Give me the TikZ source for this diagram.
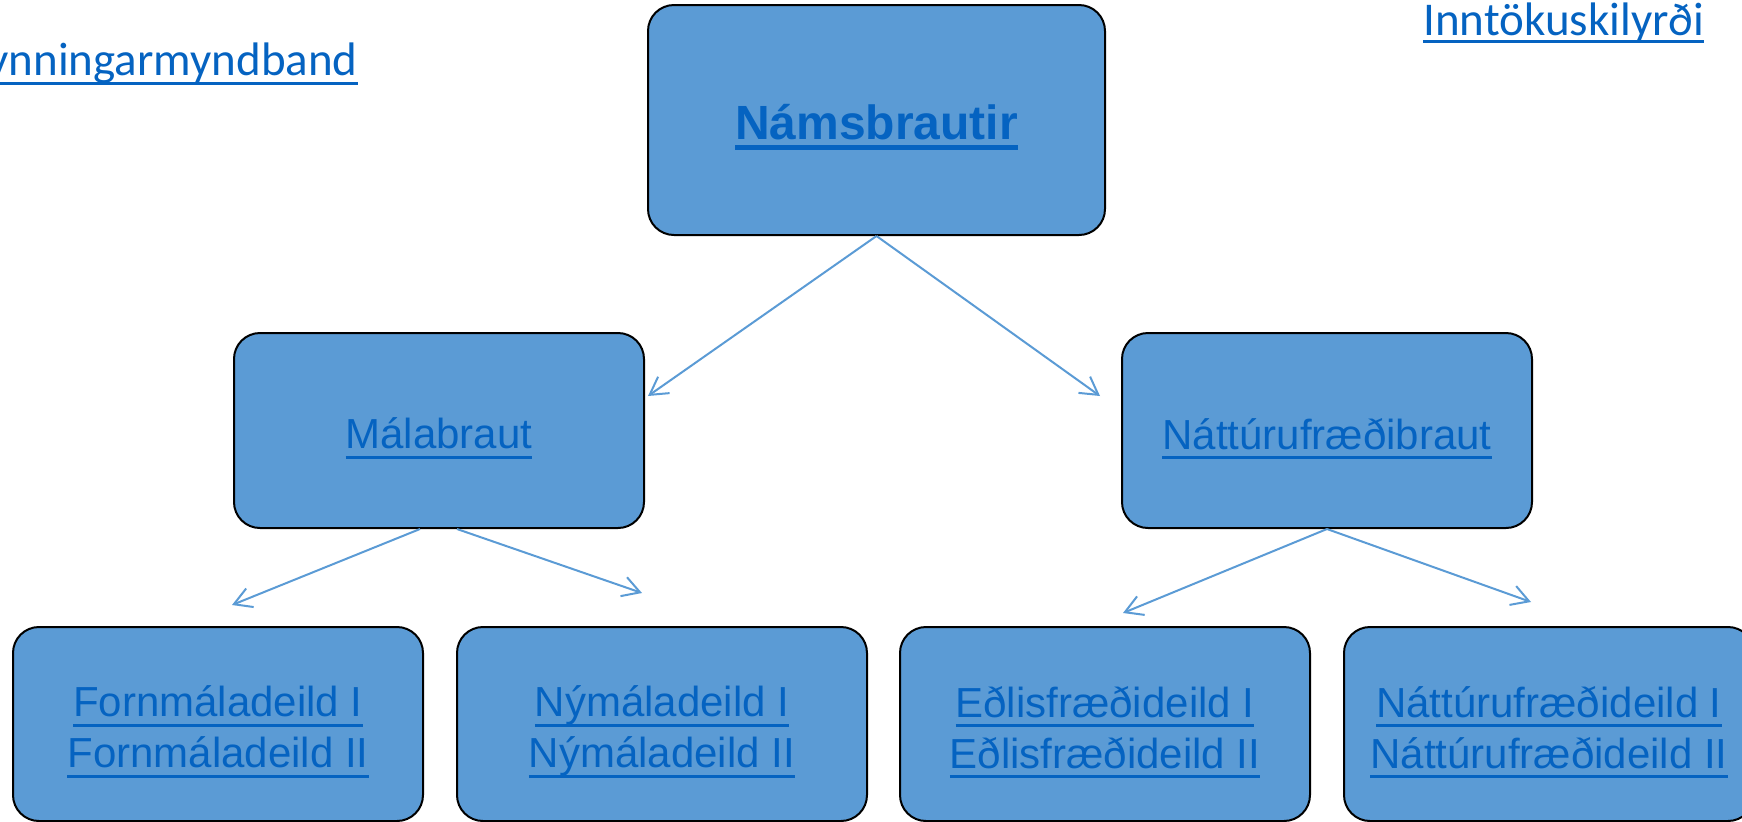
\documentclass[tikz,border=0pt]{standalone}
\usepackage{fontspec}
\setmainfont{Liberation Sans}
\newfontfamily\calib{Carlito}
\usetikzlibrary{arrows.meta,calc}
\definecolor{boxblue}{HTML}{5B9BD5}
\definecolor{linkblue}{HTML}{0563C1}
\newcommand\ulin[3]{\setbox0=\hbox{#3}\rlap{\rule[-#1]{\wd0}{#2}}\box0}
\newcommand\lk[1]{\ulin{5pt}{1.5pt}{#1}}
\begin{document}
\begin{tikzpicture}[x=0.5pt,y=-0.5pt,
  box/.style={draw=black, line width=1pt, fill=boxblue, rounded corners=13pt, inner sep=0pt},
  midbox/.style={box, minimum width=205pt, minimum height=97.5pt},
  lowbox/.style={box, minimum width=205pt, minimum height=97pt},
  txt/.style={text=linkblue, align=center, inner sep=0pt,
    font=\fontsize{21}{25.5}\selectfont},
  conn/.style={draw=boxblue, line width=1pt, -{Straight Barb[angle=60:10pt]}},
  corner/.style={text=linkblue, inner sep=0pt, font=\calib\fontsize{23.5}{28}\selectfont},
]
\useasboundingbox (0,0) rectangle (1742,821);
\clip (0,0) rectangle (1742,821);

\node[corner, anchor=base east] (kynn) at (358,75) {\ulin{5pt}{1.5pt}{Kynningarmyndband}};
\node[corner, anchor=base west] (innt) at (1423,35) {\ulin{4pt}{1.5pt}{Inntökuskilyrði}};

\node[box, minimum width=228.5pt, minimum height=115pt] (top) at (876.5,120) {};
\node[txt, font=\bfseries\fontsize{24}{29}\selectfont] (topT) at ($(top.center)+(0,7)$)
  {\ulin{5pt}{2.5pt}{Námsbrautir}};

\node[midbox] (malab) at (439,430.5) {};
\node[txt] (malabT) at ($(malab.center)+(0,8)$) {\lk{Málabraut}};
\node[midbox] (natt) at (1327,430.5) {};
\node[txt] (nattT) at ($(natt.center)+(0,8)$) {\lk{Náttúrufræðibraut}};

\node[lowbox] (forn) at (218,724) {};
\node[txt] (fornT) at ($(forn.center)+(0,8)$) {\lk{Fornmáladeild I}\\\lk{Fornmáladeild II}};
\node[lowbox] (nym) at (662,724) {};
\node[txt] (nymT) at ($(nym.center)+(0,8)$) {\lk{Nýmáladeild I}\\\lk{Nýmáladeild II}};
\node[lowbox] (edl) at (1105,724) {};
\node[txt] (edlT) at ($(edl.center)+(0,8)$) {\lk{Eðlisfræðideild I}\\\lk{Eðlisfræðideild II}};
\node[lowbox] (nfd) at (1549,724) {};
\node[txt] (nfdT) at ($(nfd.center)+(0,8)$) {\lk{Náttúrufræðideild I}\\\lk{Náttúrufræðideild II}};

\coordinate (t1) at (648,396);
\coordinate (t2) at (1100,396);
\coordinate (m1) at (232,605);
\coordinate (m2) at (642,593);
\coordinate (n1) at (1123,613);
\coordinate (n2) at (1531,602);

\draw[conn] (top.south) -- (t1);
\draw[conn] (top.south) -- (t2);
\draw[conn] ($(malab.south)+(-19,0)$) -- (m1);
\draw[conn] ($(malab.south)+(18,0)$) -- (m2);
\draw[conn] (natt.south) -- (n1);
\draw[conn] (natt.south) -- (n2);
\end{tikzpicture}
\end{document}
